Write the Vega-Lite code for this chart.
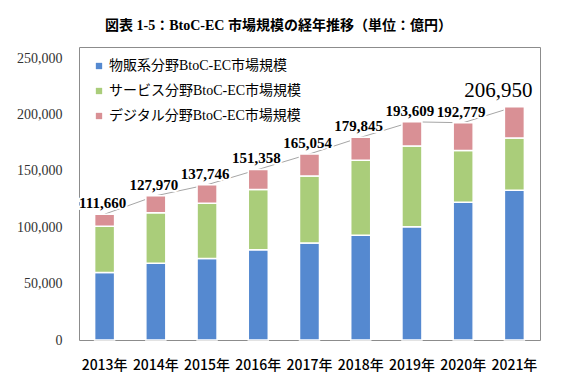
{
  "$schema": "https://vega.github.io/schema/vega-lite/v6.json",
  "width": 461,
  "height": 293,
  "autosize": "none",
  "padding": {"left": 79, "top": 47, "right": 27, "bottom": 41},
  "background": "white",
  "config": {
    "view": {"stroke": "#8c8c8c", "strokeWidth": 1},
    "font": "Liberation Serif, Noto Sans CJK JP"
  },
  "title": {
    "text": "図表 1-5：BtoC-EC 市場規模の経年推移（単位：億円）",
    "fontSize": 14,
    "fontWeight": "bold",
    "font": "Liberation Serif, Noto Sans CJK JP",
    "color": "#000000",
    "anchor": "middle",
    "dx": -31,
    "offset": 14
  },
  "datasets": {
    "bars": [
      {"year": "2013年", "category": "物販系分野BtoC-EC市場規模", "rank": 1, "value": 59931},
      {"year": "2013年", "category": "サービス分野BtoC-EC市場規模", "rank": 2, "value": 40983},
      {"year": "2013年", "category": "デジタル分野BtoC-EC市場規模", "rank": 3, "value": 10746},
      {"year": "2014年", "category": "物販系分野BtoC-EC市場規模", "rank": 1, "value": 68043},
      {"year": "2014年", "category": "サービス分野BtoC-EC市場規模", "rank": 2, "value": 44816},
      {"year": "2014年", "category": "デジタル分野BtoC-EC市場規模", "rank": 3, "value": 15111},
      {"year": "2015年", "category": "物販系分野BtoC-EC市場規模", "rank": 1, "value": 72398},
      {"year": "2015年", "category": "サービス分野BtoC-EC市場規模", "rank": 2, "value": 49014},
      {"year": "2015年", "category": "デジタル分野BtoC-EC市場規模", "rank": 3, "value": 16334},
      {"year": "2016年", "category": "物販系分野BtoC-EC市場規模", "rank": 1, "value": 80043},
      {"year": "2016年", "category": "サービス分野BtoC-EC市場規模", "rank": 2, "value": 53532},
      {"year": "2016年", "category": "デジタル分野BtoC-EC市場規模", "rank": 3, "value": 17783},
      {"year": "2017年", "category": "物販系分野BtoC-EC市場規模", "rank": 1, "value": 86008},
      {"year": "2017年", "category": "サービス分野BtoC-EC市場規模", "rank": 2, "value": 59568},
      {"year": "2017年", "category": "デジタル分野BtoC-EC市場規模", "rank": 3, "value": 19478},
      {"year": "2018年", "category": "物販系分野BtoC-EC市場規模", "rank": 1, "value": 92992},
      {"year": "2018年", "category": "サービス分野BtoC-EC市場規模", "rank": 2, "value": 66471},
      {"year": "2018年", "category": "デジタル分野BtoC-EC市場規模", "rank": 3, "value": 20382},
      {"year": "2019年", "category": "物販系分野BtoC-EC市場規模", "rank": 1, "value": 100515},
      {"year": "2019年", "category": "サービス分野BtoC-EC市場規模", "rank": 2, "value": 71672},
      {"year": "2019年", "category": "デジタル分野BtoC-EC市場規模", "rank": 3, "value": 21422},
      {"year": "2020年", "category": "物販系分野BtoC-EC市場規模", "rank": 1, "value": 122333},
      {"year": "2020年", "category": "サービス分野BtoC-EC市場規模", "rank": 2, "value": 45832},
      {"year": "2020年", "category": "デジタル分野BtoC-EC市場規模", "rank": 3, "value": 24614},
      {"year": "2021年", "category": "物販系分野BtoC-EC市場規模", "rank": 1, "value": 132865},
      {"year": "2021年", "category": "サービス分野BtoC-EC市場規模", "rank": 2, "value": 46424},
      {"year": "2021年", "category": "デジタル分野BtoC-EC市場規模", "rank": 3, "value": 27661}
    ],
    "totals": [
      {"year": "2013年", "total": 111660},
      {"year": "2014年", "total": 127970},
      {"year": "2015年", "total": 137746},
      {"year": "2016年", "total": 151358},
      {"year": "2017年", "total": 165054},
      {"year": "2018年", "total": 179845},
      {"year": "2019年", "total": 193609},
      {"year": "2020年", "total": 192779},
      {"year": "2021年", "total": 206950}
    ]
  },
  "encoding": {
    "x": {
      "field": "year",
      "type": "ordinal",
      "scale": {"paddingInner": 0, "paddingOuter": 0},
      "axis": {
        "title": null,
        "labelAngle": 0,
        "ticks": false,
        "domain": false,
        "labelFont": "Noto Sans CJK JP",
        "labelFontSize": 14,
        "labelFontWeight": 500,
        "labelColor": "#000000",
        "labelPadding": 18
      }
    }
  },
  "layer": [
    {
      "data": {"name": "totals"},
      "mark": {"type": "line", "color": "#a6a6a6", "strokeWidth": 1},
      "encoding": {
        "y": {
          "field": "total",
          "type": "quantitative",
          "scale": {"domain": [0, 250000]},
          "axis": {
            "title": null,
            "values": [0, 50000, 100000, 150000, 200000, 250000],
            "format": ",.0f",
            "ticks": false,
            "grid": false,
            "domain": false,
            "labelFont": "Liberation Serif",
            "labelFontSize": 14,
            "labelColor": "#333333",
            "labelPadding": 17
          }
        }
      }
    },
    {
      "data": {"name": "bars"},
      "mark": {"type": "bar", "width": 20, "stroke": "white", "strokeWidth": 1.5},
      "encoding": {
        "y": {
          "field": "value",
          "type": "quantitative",
          "stack": "zero",
          "scale": {"domain": [0, 250000]},
          "axis": {
            "title": null,
            "values": [0, 50000, 100000, 150000, 200000, 250000],
            "format": ",.0f",
            "ticks": false,
            "grid": false,
            "domain": false,
            "labelFont": "Liberation Serif",
            "labelFontSize": 14,
            "labelColor": "#333333",
            "labelPadding": 17
          }
        },
        "color": {
          "field": "category",
          "type": "nominal",
          "sort": ["物販系分野BtoC-EC市場規模", "サービス分野BtoC-EC市場規模", "デジタル分野BtoC-EC市場規模"],
          "scale": {
            "domain": ["物販系分野BtoC-EC市場規模", "サービス分野BtoC-EC市場規模", "デジタル分野BtoC-EC市場規模"],
            "range": ["#5589d0", "#aacd7a", "#d99095"]
          },
          "legend": {
            "title": null,
            "orient": "none",
            "legendX": 13,
            "legendY": 12,
            "symbolType": "square",
            "symbolSize": 40,
            "symbolStrokeWidth": 0,
            "labelFont": "Liberation Serif, Noto Sans CJK JP",
            "labelFontSize": 14,
            "labelColor": "#000000",
            "labelOffset": 3,
            "rowPadding": 11,
            "labelLimit": 300
          }
        },
        "order": {"field": "rank", "type": "quantitative", "sort": "ascending"}
      }
    },
    {
      "data": {"name": "totals"},
      "transform": [{"filter": "datum.year !== '2021年'"}],
      "mark": {"type": "text", "baseline": "bottom", "dy": -3, "dx": -2, "fontSize": 15, "fontWeight": "bold", "font": "Liberation Serif", "stroke": "white", "strokeWidth": 4, "strokeJoin": "round"},
      "encoding": {
        "y": {"field": "total", "type": "quantitative"},
        "text": {"field": "total", "type": "quantitative", "format": ","}
      }
    },
    {
      "data": {"name": "totals"},
      "transform": [{"filter": "datum.year !== '2021年'"}],
      "mark": {"type": "text", "baseline": "bottom", "dy": -3, "dx": -2, "fontSize": 15, "fontWeight": "bold", "font": "Liberation Serif", "color": "#000000"},
      "encoding": {
        "y": {"field": "total", "type": "quantitative"},
        "text": {"field": "total", "type": "quantitative", "format": ","}
      }
    },
    {
      "data": {"name": "totals"},
      "transform": [{"filter": "datum.year === '2021年'"}],
      "mark": {"type": "text", "baseline": "bottom", "dy": -6, "dx": -16, "fontSize": 21, "font": "Liberation Serif", "color": "#000000"},
      "encoding": {
        "y": {"field": "total", "type": "quantitative"},
        "text": {"field": "total", "type": "quantitative", "format": ","}
      }
    }
  ]
}
